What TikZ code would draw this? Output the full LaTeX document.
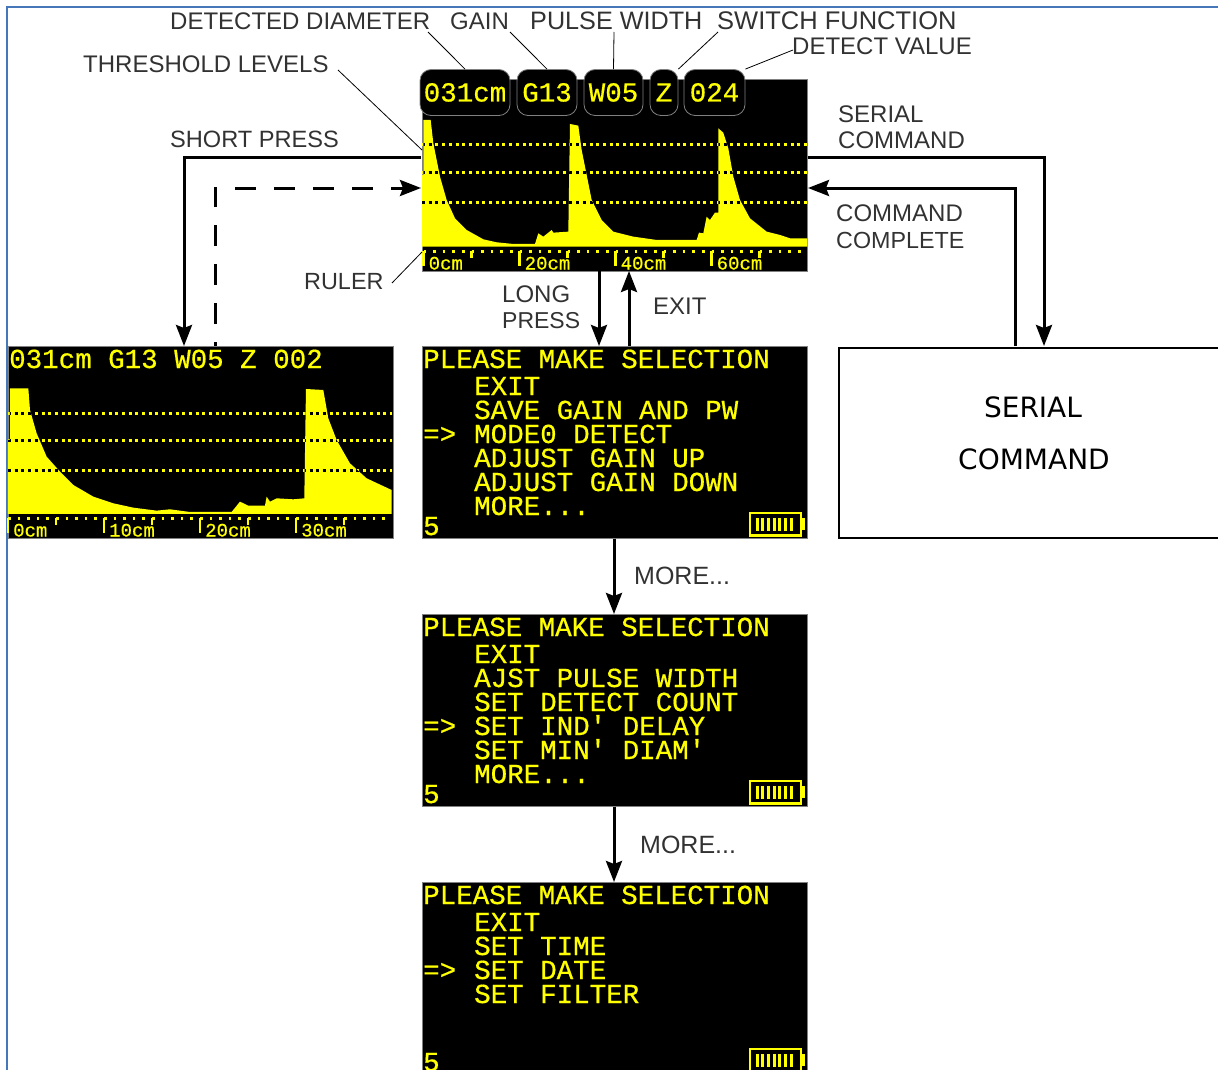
\documentclass[tikz,border=0pt]{standalone}
\usepackage{fontspec}
\setmainfont{Liberation Sans}
\newfontfamily\lcdfont[FakeBold=0.6]{Liberation Mono}
\newfontfamily\boxfont{DejaVu Sans}
\usetikzlibrary{arrows.meta}
\definecolor{lcdyellow}{RGB}{255,255,0}
\definecolor{labelgray}{RGB}{50,50,50}
\definecolor{edgeblue}{RGB}{70,120,185}
\tikzset{
  screen/.style={fill=black,draw=gray,line width=0.6pt,minimum width=385,minimum height=192,anchor=north west,inner sep=0},
  lcdline/.style={text=lcdyellow,font=\lcdfont\fontsize{27.5}{27.5}\selectfont,anchor=base west,inner sep=0},
  rulertext/.style={text=lcdyellow,font=\lcdfont\fontsize{19}{19}\selectfont,anchor=base west,inner sep=0},
  pill/.style={fill=black,draw=gray,line width=0.8pt,rounded corners=11,minimum height=46,inner sep=0,text=lcdyellow,font=\lcdfont\fontsize{27.5}{27.5}\selectfont,text height=18,text depth=0},
  caption/.style={text=labelgray,font=\fontsize{#1}{#1}\selectfont,anchor=west,inner sep=0},
  caption/.default=24,
  boxtext/.style={text=black,font=\boxfont\fontsize{28}{28}\selectfont,inner sep=0},
  flow/.style={line width=3pt,-{Stealth[length=21pt,width=16pt,inset=3pt]}},
  leader/.style={line width=0.8pt,black},
  levelline/.style={line width=3pt,dash pattern=on 3pt off 3.7pt},
  dotrow/.style={line width=2.6pt,lcdyellow,dash pattern=on 2.6pt off 7pt},
  wavetop/.style={shift={(400,60)},x=0.3333pt,y=-0.3333pt},
  waveside/.style={shift={(0,340)},x=0.3333pt,y=-0.3333pt}
}
\newcommand{\moreitem}{MORE...}
\newcommand{\rulerbar}[4]{
  \draw[dotrow] (#2,#3) -- ({#2+384},#3);
  \foreach \lab [count=\i from 0] in {#4} {
    \draw[line width=2.5pt,lcdyellow] ({#2+96*\i},{#3-1}) -- ({#2+96*\i},{#3+14});
    \draw[line width=2.5pt,lcdyellow] ({#2+48+96*\i},{#3-1}) -- ({#2+48+96*\i},{#3+6});
    \node[rulertext] (#1\i) at ({#2+5+96*\i},{#3+18}) {\lab};
  }
}
\newcommand{\battery}[1]{
  \draw[line width=2.5pt,lcdyellow] (750,{#1+167}) rectangle (801,{#1+189.5});
  \fill[lcdyellow] (801,{#1+172}) rectangle (805,{#1+184});
  \foreach \i in {0,...,6}
    \fill[lcdyellow] ({755.5+5.7*\i},{#1+172}) rectangle ({758.5+5.7*\i},{#1+184.5});
}
\newcommand{\menuscreen}[4]{
  \node[screen] (#1) at (422,#2) {};
  \node[lcdline] (#1title) at (423,{#2+22}) {PLEASE MAKE SELECTION};
  \foreach \row [count=\i] in {#4}
    \node[lcdline] (#1row\i) at (474,{#2+25+24*\i}) {\row};
  \node[lcdline] (#1mark) at (423,{#2+25+24*#3}) {=>};
  \node[lcdline] (#1count) at (423,{#2+189}) {5};
  \battery{#2}
}
\newcommand{\topwave}{(66,560) -- (66,345) -- (70,345) -- (70,180) -- (92,180) -- (100,250) -- (120,350) -- (140,420) -- (165,475) -- (200,510) -- (250,538) -- (290,547) -- (340,552) -- (405,552) -- (415,520) -- (430,530) -- (455,510) -- (460,518) -- (505,515) -- (510,192) -- (535,197) -- (545,270) -- (575,420) -- (605,480) -- (640,515) -- (700,530) -- (770,540) -- (890,540) -- (897,518) -- (910,520) -- (920,470) -- (930,480) -- (945,458) -- (955,458) -- (955,205) -- (970,218) -- (985,265) -- (1000,350) -- (1020,420) -- (1050,475) -- (1100,515) -- (1140,525) -- (1170,535) -- (1222,535) -- (1222,560) -- cycle}
\newcommand{\sidewave}{(24,522) -- (24,300) -- (30,300) -- (30,145) -- (85,145) -- (90,210) -- (110,280) -- (140,350) -- (180,395) -- (220,435) -- (280,470) -- (340,490) -- (400,503) -- (470,512) -- (510,508) -- (570,516) -- (695,516) -- (720,485) -- (745,497) -- (795,497) -- (800,470) -- (810,485) -- (830,475) -- (880,478) -- (913,475) -- (918,147) -- (970,150) -- (985,235) -- (1010,300) -- (1050,370) -- (1100,415) -- (1175,450) -- (1175,522) -- cycle}

\begin{document}
\begin{tikzpicture}[x=1pt,y=-1pt]
  \useasboundingbox (0,0) rectangle (1218,1070);
  \clip (0,0) rectangle (1218,1070);
  \draw[edgeblue,line width=1.5pt] (7,1070) -- (7,7) -- (1218,7);

  \node[screen] (mainscreen) at (422,79) {};
  \fill[lcdyellow,wavetop] \topwave;
  \foreach \level in {145,172,202}
    \draw[levelline,lcdyellow] (422,\level) -- (807,\level);
  \begin{scope}
    \clip[wavetop] \topwave;
    \foreach \level in {145,172,202}
      \draw[levelline,black] (422,\level) -- (807,\level);
  \end{scope}
  \rulerbar{mainruler}{423.5}{251.5}{0cm,20cm,40cm,60cm}

  \node[pill,minimum width=90] (diameter) at (465,92.5) {031cm};
  \node[pill,minimum width=60] (gain) at (547,92.5) {G13};
  \node[pill,minimum width=59] (pulse) at (613.5,92.5) {W05};
  \node[pill,minimum width=28] (switch) at (664,92.5) {Z};
  \node[pill,minimum width=61] (detect) at (714.5,92.5) {024};

  \node[screen] (sidescreen) at (7.5,346) {};
  \fill[lcdyellow,waveside] \sidewave;
  \foreach \level in {413,440,470}
    \draw[levelline,lcdyellow] (8,\level) -- (392,\level);
  \begin{scope}
    \clip[waveside] \sidewave;
    \foreach \level in {413,440,470}
      \draw[levelline,black] (8,\level) -- (392,\level);
  \end{scope}
  \rulerbar{sideruler}{8}{518.5}{0cm,10cm,20cm,30cm}
  \node[lcdline] (sidetitle) at (9,368) {031cm G13 W05 Z 002};

  \menuscreen{menuone}{346}{3}{EXIT,SAVE GAIN AND PW,MODE0 DETECT,ADJUST GAIN UP,ADJUST GAIN DOWN,\moreitem}
  \menuscreen{menutwo}{614}{4}{EXIT,AJST PULSE WIDTH,SET DETECT COUNT,SET IND' DELAY,SET MIN' DIAM',\moreitem}
  \menuscreen{menuthree}{882}{3}{EXIT,SET TIME,SET DATE,SET FILTER}

  \node[draw=black,line width=1.5pt,minimum width=402,minimum height=190,anchor=north west,inner sep=0] (serialbox) at (838,347) {};
  \node[boxtext] (serialone) at (1033,407) {SERIAL};
  \node[boxtext] (serialtwo) at (1034,459) {COMMAND};

  \node[caption] (diamlabel) at (170,21) {DETECTED DIAMETER};
  \node[caption] (gainlabel) at (450,21) {GAIN};
  \node[caption=25.2] (pulselabel) at (530,21) {PULSE WIDTH};
  \node[caption=25.5] (switchlabel) at (717,21) {SWITCH FUNCTION};
  \node[caption] (detectlabel) at (792,46) {DETECT VALUE};
  \node[caption] (levellabel) at (83,64) {THRESHOLD LEVELS};
  \node[caption=23.6] (shortlabel) at (170,139) {SHORT PRESS};
  \node[caption] (serialout) at (838,114) {SERIAL};
  \node[caption] (serialouttwo) at (838,140) {COMMAND};
  \node[caption] (completeone) at (836,213) {COMMAND};
  \node[caption=23.3] (completetwo) at (836,240) {COMPLETE};
  \node[caption=23.4] (rulerlabel) at (304,282) {RULER};
  \node[caption] (longone) at (502,294) {LONG};
  \node[caption=23] (longtwo) at (502,321) {PRESS};
  \node[caption] (exitlabel) at (653,306) {EXIT};
  \node[caption=25] (moreone) at (634,576) {MORE...};
  \node[caption=25] (moretwo) at (640,845) {MORE...};

  \draw[leader] (428,32) -- (diameter.north);
  \draw[leader] (510,32) -- (gain.north);
  \draw[leader] (614,32) -- (pulse.north);
  \draw[leader] (718,32) -- (switch.north east);
  \draw[leader] (793,50) -- (detect.north east);
  \coordinate (levelend) at (422,150);
  \coordinate (rulerend) at (422,252);
  \draw[leader] (338,70) -- (levelend);
  \draw[leader] (392,283) -- (rulerend);

  \coordinate (shortout) at (421,158);
  \coordinate (shortin) at (184,346);
  \coordinate (dashout) at (215,346);
  \coordinate (dashin) at (421,188);
  \coordinate (serialstart) at (808,158);
  \coordinate (serialend) at (1044,346);
  \coordinate (completeout) at (1015,346);
  \coordinate (completein) at (808,188);
  \coordinate (longstart) at (599,271);
  \coordinate (longend) at (599,346);
  \coordinate (exitstart) at (629,346);
  \coordinate (exitend) at (629,271);

  \draw[flow] (shortout) -| (shortin);
  \draw[flow,dash pattern=on 21pt off 18pt,dash phase=17pt] (dashout) |- (dashin);
  \draw[flow] (serialstart) -| (serialend);
  \draw[flow] (completeout) |- (completein);
  \draw[flow] (longstart) -- (longend);
  \draw[flow] (exitstart) -- (exitend);
  \draw[flow] (menuone.south -| 614,0) -- (menutwo.north -| 614,0);
  \draw[flow] (menutwo.south -| 614,0) -- (menuthree.north -| 614,0);
\end{tikzpicture}
\end{document}
